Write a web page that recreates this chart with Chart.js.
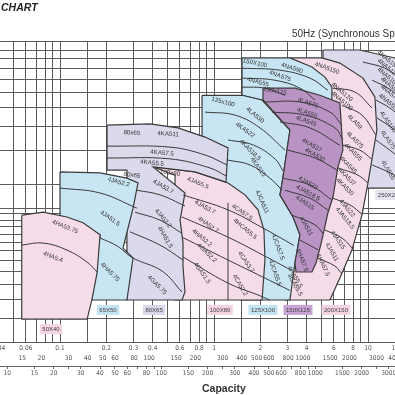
<!DOCTYPE html>
<html lang="en">
<head>
<meta charset="utf-8">
<title>Pump selection chart</title>
<script src="https://cdn.jsdelivr.net/npm/chart.js@4.4.1/dist/chart.umd.min.js"></script>
<style>
    html, body { margin: 0; padding: 0; background: #fff; }
    body { position: relative; width: 395px; height: 395px; overflow: hidden; }
    #pumpChart { position: absolute; left: -40px; top: 0; }
    .txt { position: absolute; white-space: nowrap; font-family: 'Liberation Sans', Arial, sans-serif; color: #333; }
    #chartTitle { left: 1px; top: 1px; font-size: 10.5px; font-weight: bold; font-style: italic; color: #222; }
    #hzTitle { left: 292px; top: 28px; font-size: 10px; }
    #capTitle { left: 202px; top: 382px; font-size: 10.5px; font-weight: bold; }
</style>
</head>
<body>
<canvas id="pumpChart" width="480" height="395"></canvas>
<div class="txt" id="chartTitle">CHART</div>
<div class="txt" id="hzTitle">50Hz (Synchronous Speed)</div>
<div class="txt" id="capTitle">Capacity</div>
<script>
// 눈금 값들 (유량 m3/min, 양정 m)
const capGrid = [0.04, 0.05, 0.06, 0.07, 0.08, 0.09, 0.1, 0.15, 0.2, 0.3, 0.4, 0.5, 0.6, 0.7, 0.8, 0.9, 1, 1.5, 2, 3, 4, 5, 6, 7, 8, 9, 10, 15];
const capLabels = [0.04, 0.06, 0.1, 0.2, 0.3, 0.4, 0.6, 0.8, 1, 2, 3, 4, 6, 8, 10, 15];
const usGpmLabels = [15, 20, 30, 40, 50, 60, 80, 100, 150, 200, 300, 400, 500, 600, 800, 1000, 1500, 2000, 3000, 4000];
const impGpmLabels = [10, 15, 20, 30, 40, 50, 60, 80, 100, 150, 200, 300, 400, 500, 600, 800, 1000, 1500, 2000, 3000];
const impGpmMinor = [25, 70, 90, 250, 700, 900, 2500];
const headGrid = [3, 4, 5, 6, 7, 8, 9, 10, 11, 12, 13, 14, 15, 20, 30, 40, 50, 60, 70, 80, 90, 100, 111.4];

// 기종별 사용 범위 (순서쌍 [유량, 양정])
const area250x200 = [[5.10, 100], [8.85, 100], [14.94, 90.9], [16.5, 88.6], [16.5, 19.1], [9.13, 19.1], [5.10, 83.4]];
const area200x150 = [[3.112, 90.9], [5.02, 90.9], [6.568, 85.5], [9.27, 71.4], [11.08, 56.9], [11.42, 38.3], [10.0, 20.3], [9.13, 13.8], [7.86, 9.08], [6.568, 6.49], [5.657, 4.99], [2.888, 4.99], [3.614, 54.9], [3.112, 54.9]];
const area150x100 = [[1.52, 90.9], [3.112, 90.9], [4.32, 81.5], [5.25, 72.3], [5.83, 64.1], [5.83, 54.9], [2.05, 54.9], [1.52, 58.1]];
const area125x100 = [[0.836, 58.1], [1.52, 58.1], [2.05, 54.9], [3.112, 38.3], [2.80, 21.5], [2.68, 17.6], [3.26, 13.5], [3.614, 10.9], [3.354, 7.78], [3.112, 4.99], [1.475, 4.99], [0.811, 21.0], [0.836, 34.0]];
const area150x125 = [[2.08, 63.3], [3.354, 63.3], [4.87, 58.1], [6.568, 53.0], [6.87, 30.1], [6.38, 24.6], [5.92, 17.1], [5.49, 14.2], [5.02, 10.24], [4.6, 7.78], [4.32, 6.98], [3.41, 6.98], [3.354, 7.78], [3.614, 10.9], [3.26, 13.5], [2.68, 17.6], [2.80, 21.5], [3.112, 38.3], [2.08, 54.9]];
const area100x80 = [[0.402, 24.6], [0.753, 23.2], [1.233, 20.3], [1.589, 17.6], [1.93, 14.7], [2.11, 11.55], [2.142, 8.06], [2.05, 4.99], [0.558, 4.99], [0.558, 22.3]];
const area80x65 = [[0.202, 40.6], [0.384, 41.2], [0.584, 39.3], [0.874, 35.2], [1.233, 30.9], [1.196, 20.5], [0.753, 23.2], [0.402, 24.6], [0.648, 18.0], [0.602, 13.0], [0.629, 9.88], [0.629, 7.41], [0.648, 5.49], [0.62, 4.99], [0.272, 4.99], [0.272, 23.7], [0.202, 23.7]];
const area65x50 = [[0.1, 23.2], [0.182, 22.9], [0.272, 21.5], [0.321, 20.3], [0.298, 15.0], [0.2565, 9.30], [0.298, 8.25], [0.272, 4.99], [0.161, 4.99], [0.182, 10.9], [0.1, 13.7]];
const area50x40 = [[0.0564, 13.8], [0.0776, 14.3], [0.111, 13.5], [0.141, 12.6], [0.182, 10.9], [0.174, 6.9], [0.161, 4.99], [0.150, 3.97], [0.0564, 3.97]];

// 임펠러 곡선들
const curves50x40 = [[[0.0564, 9.64], [0.0776, 9.88], [0.111, 9.08], [0.1497, 7.87], [0.174, 6.98]]];
const curves65x50 = [
    [[0.1, 19.1], [0.182, 18.0], [0.316, 15.0]],
    [[0.182, 10.5], [0.235, 9.53], [0.298, 8.25], [0.46, 7.06], [0.62, 5.49]]
];
const curves80x65 = [
    [[0.202, 31.6], [0.518, 31.2], [0.874, 28.4], [1.214, 25.2]],
    [[0.202, 27.4], [0.518, 27.1], [0.942, 24.3], [1.196, 22.1]],
    [[0.316, 18.6], [0.446, 17.6], [0.648, 15.4]],
    [[0.307, 14.3], [0.446, 13.0], [0.62, 11.1]],
    [[0.285, 11.3], [0.446, 9.64], [0.629, 8.06]]
];
const curves100x80 = [
    [[0.629, 17.6], [1.233, 14.7], [2.05, 11.9], [3.3, 9.6]],
    [[0.62, 13.5], [1.233, 10.6], [2.05, 8.6], [3.2, 7.1]],
    [[0.62, 10.6], [1.233, 8.06], [2.05, 6.6], [3.1, 5.6]],
    [[0.629, 8.36], [1.233, 6.11], [1.93, 5.30], [2.3, 4.99]],
    [[1.233, 16.0], [1.233, 4.99]]
];
const curves125x100 = [
    [[0.874, 47.5], [1.369, 45.8], [1.988, 39.3], [2.888, 30.1]],
    [[1.233, 34.0], [1.8, 32.0], [2.5, 27.0], [2.8, 23.5]],
    [[1.233, 26.7], [1.713, 25.2], [2.309, 21.5], [2.765, 18.6]]
];
const curves150x100 = [
    [[1.52, 80.4], [2.68, 78.5], [4.196, 71.4], [5.49, 61.7]],
    [[1.52, 71.4], [2.488, 69.6], [3.614, 63.3], [4.52, 54.9]],
    [[1.52, 64.1], [2.142, 63.3], [2.888, 58.1]]
];
const curves150x125 = [
    [[2.142, 53.6], [3.614, 53.6], [5.657, 47.5], [6.77, 40.6]],
    [[2.38, 47.5], [3.894, 45.8], [6.095, 39.3], [6.87, 34.0]],
    [[2.68, 42.2], [4.196, 39.3], [6.568, 31.9]],
    [[3.02, 30.1], [4.52, 27.4], [6.3, 23.7]],
    [[2.80, 21.5], [4.196, 19.8], [5.8, 16.6]],
    [[2.888, 18.6], [4.196, 16.9], [5.6, 14.5]],
    [[3.21, 13.8], [4.52, 12.3], [5.1, 11.1]],
    [[3.614, 10.24], [4.75, 9.1]]
];
const curves200x150 = [
    [[5.92, 63.3], [8.22, 60.4], [10.62, 49.9]],
    [[6.77, 51.5], [9.13, 45.8], [11.25, 36.1]],
    [[6.87, 31.9], [8.85, 30.1], [10.6, 27.0]],
    [[6.4, 24.3], [8.60, 22.3], [10.0, 20.3]],
    [[5.92, 16.9], [7.63, 15.6], [9.2, 13.9]],
    [[5.25, 11.55], [6.77, 10.49], [7.9, 9.3]],
    [[4.7, 8.25], [6.095, 7.50], [6.7, 6.9]]
];
const curves250x200 = [
    [[9.27, 86.6], [12.86, 80.4], [16.5, 70.5]],
    [[10.65, 69.6], [13.49, 63.3], [16.5, 56.0]],
    [[11.25, 54.9], [13.86, 49.9], [16.5, 44.5]],
    [[11.42, 44.3], [14.32, 39.3], [16.5, 35.5]],
    [[11.25, 34.0], [13.86, 30.1], [16.5, 27.0]],
    [[10.65, 25.2], [13.49, 23.2], [16.5, 21.3]]
];

// 모델 이름 [이름, 유량, 양정, 기울기(도)]
const tags50x40 = [['4HA53.75', 0.108, 12.0, 22], ['4HA5.4', 0.090, 8.36, 22]];
const tags65x50 = [['4JA52.2', 0.240, 20.5, 15], ['4JA51.5', 0.211, 13.3, 35], ['4HA5.75', 0.211, 6.98, 45]];
const tags80x65 = [['80x65', 0.293, 37.0, 4], ['4KA511', 0.503, 36.5, 4], ['4KA57.5', 0.46, 29.1, 5], ['4KA55.5', 0.396, 25.8, 6], ['80x65', 0.293, 22.3, 8], ['4JA53.7', 0.467, 19.4, 30], ['4JA52.2', 0.467, 13.3, 50], ['4HA51.5', 0.481, 10.6, 60], ['4GA5.75', 0.427, 5.97, 45]];
const tags100x80 = [['100x80', 0.518, 22.9, 8], ['4JA55.5', 0.787, 20.3, 22], ['4JA53.7', 0.874, 15.2, 30], ['4HA52.7', 0.914, 12.3, 35], ['4HA52.2', 0.836, 10.5, 40], ['4GA52.2', 0.90, 8.77, 45], ['4GA51.5', 0.836, 6.9, 55], ['4CA57.5', 1.52, 14.3, 35], ['4HCA55.5', 1.589, 11.7, 40], ['4CA53.7', 1.613, 7.87, 55], ['4CA52.2', 1.475, 5.97, 60]];
const tags125x100 = [['125x100', 1.144, 53.6, 15], ['4LA530', 1.845, 45.8, 40], ['4KA522', 1.589, 38.3, 35], ['4KA518.5', 1.713, 30.1, 45], ['4KA515', 1.93, 24.6, 55], ['4JCA511', 2.05, 16.2, 65], ['4JCA57.5', 2.6, 9.42, 70], ['4JCA55.5', 2.488, 6.9, 70]];
const tags150x100 = [['150X100', 1.845, 85.5, 12], ['4NA590', 3.21, 80.4, 18], ['4NA575', 2.68, 73.2, 20], ['4NA555', 1.93, 68.1, 15]];
const tags150x125 = [['150x125', 2.488, 61.1, 10], ['4LA575', 4.08, 53.0, 20], ['4LA555', 4.02, 47.0, 20], ['4LA545', 3.96, 42.7, 20], ['4KA537', 4.32, 31.9, 30], ['4KA530', 4.52, 28.4, 30], ['4JA522', 4.08, 20.3, 30], ['4JA518.5', 4.08, 18.0, 30], ['4JA515', 3.894, 16.0, 35], ['4JA511', 3.96, 12.1, 60], ['4HA57.5', 3.73, 8.06, 70]];
const tags200x150 = [['4NA5150', 5.42, 80.4, 20], ['4NA5120', 6.77, 60.4, 40], ['4NA5100', 6.77, 54.2, 40], ['4LA59', 8.22, 42.2, 45], ['4LA575', 8.22, 34.0, 45], ['4KA555', 7.99, 29.4, 45], ['4KA545', 7.41, 25.2, 45], ['4KA537', 7.30, 21.8, 45], ['4KA530', 7.08, 19.35, 45], ['4JA522', 7.30, 15.0, 50], ['4JA518.5', 7.08, 13.3, 50], ['4JA515', 6.38, 10.24, 55], ['4JA511', 5.83, 8.87, 60], ['4HA57.5', 5.10, 7.59, 65], ['4HA55.5', 3.354, 6.58, 60], ['4GA55.5', 3.354, 5.97, 60]];
const tags250x200 = [['4NA5150', 13.49, 88.6, 40], ['4NA5120', 13.49, 80.4, 40], ['4NA5100', 13.49, 72.3, 40], ['4NA590', 13.86, 65.5, 40], ['4NA575', 13.86, 59.7, 40], ['4NA555', 13.49, 53.6, 40], ['4LA5100', 13.49, 42.2, 55], ['4LA575', 13.49, 34.0, 55], ['4LA555', 13.49, 23.7, 60]];

// 구경 표시 상자 [이름, 유량, 양정, 색]
const sizeTags = [['50X40', 0.0874, 3.52, '#f4d3e2'], ['65X50', 0.205, 4.43, '#c4e4f3'], ['80X65', 0.408, 4.43, '#d8d8ea'], ['100X80', 1.094, 4.43, '#f4d3e2'], ['125X100', 2.08, 4.43, '#c4e4f3'], ['150X125', 3.51, 4.43, '#c9a3d4'], ['200X150', 6.20, 4.43, '#f4d3e2'], ['250X200', 13.86, 17.6, '#e4e4ee']];

const pink = '#f6dce8', blue = '#c7e5f3', lavender = '#dadaec', purple = '#b993c4';
const lineColor = '#3a3a3a';
const gridColor = '#5c5c5c';
const capMin = 0.03, capMax = 20;   // 화면 밖까지 이어지는 축 범위
const headMin = 3.015, headMax = 111.4;
const usPerCap = 264.172, impPerCap = 219.969;   // m3/min -> US GPM, Imp GPM
const tickFont = { family: "'Liberation Sans Narrow', 'DejaVu Sans Condensed', 'Liberation Sans', sans-serif", size: 6.5 };

function toPoints(list) {
    return list.map(p => ({ x: p[0], y: p[1] }));
}

// 뒤에서 앞으로 그리는 순서
const areaList = [
    [area250x200, lavender], [area200x150, pink], [area150x100, blue], [area125x100, blue],
    [area150x125, purple], [area100x80, pink], [area80x65, lavender], [area65x50, blue], [area50x40, pink]
];
const curveList = [].concat(curves250x200, curves200x150, curves150x100, curves125x100, curves150x125,
    curves100x80, curves80x65, curves65x50, curves50x40);
const modelTags = [].concat(tags50x40, tags65x50, tags80x65, tags100x80, tags125x100, tags150x100,
    tags150x125, tags200x150, tags250x200);

const datasets = [];
areaList.forEach(a => {
    datasets.push({
        data: toPoints(a[0].concat([a[0][0]])),
        showLine: true,
        fill: 'shape',
        backgroundColor: a[1],
        borderColor: lineColor,
        borderWidth: 1.2,
        pointRadius: 0,
        tension: 0
    });
});
curveList.forEach(c => {
    datasets.push({
        data: toPoints(c),
        showLine: true,
        fill: false,
        borderColor: lineColor,
        borderWidth: 1,
        pointRadius: 0,
        tension: 0.4
    });
});
datasets.forEach((d, i) => { d.order = datasets.length - i; });   // 나중 것이 위에 오게

// 모델명, 구경 상자 그리는 장치
const tagPlugin = {
    id: 'pumpTags',
    afterDraw(chart) {
        const c = chart.ctx;
        const xs = chart.scales.x, ys = chart.scales.y;
        c.save();
        c.textAlign = 'center';
        c.textBaseline = 'middle';
        c.font = "6.2px 'Liberation Sans', Arial, sans-serif";
        c.fillStyle = '#333';
        modelTags.forEach(t => {
            c.save();
            c.translate(xs.getPixelForValue(t[1]), ys.getPixelForValue(t[2]));
            c.rotate(t[3] * Math.PI / 180);
            c.fillText(t[0], 0, 0);
            c.restore();
        });
        c.font = "6px 'Liberation Sans', Arial, sans-serif";
        sizeTags.forEach(t => {
            const px = xs.getPixelForValue(t[1]), py = ys.getPixelForValue(t[2]);
            const w = c.measureText(t[0]).width + 5;
            c.fillStyle = t[3];
            c.fillRect(px - w / 2, py - 5, w, 10);
            c.fillStyle = '#444';
            c.fillText(t[0], px, py + 0.5);
        });
        c.restore();
    }
};

new Chart(document.getElementById('pumpChart').getContext('2d'), {
    type: 'scatter',
    data: { datasets: datasets },
    options: {
        responsive: false,
        animation: false,
        events: [],
        layout: { padding: { left: 19.5, right: 25.64, top: 41, bottom: 17 } },
        plugins: { legend: { display: false }, tooltip: { enabled: false } },
        scales: {
            x: {
                type: 'logarithmic', position: 'bottom', min: capMin, max: capMax, z: 1,
                afterBuildTicks: s => { s.ticks = capGrid.map(v => ({ value: v })); },
                afterFit: s => { s.height = 11; },
                grid: { color: gridColor, lineWidth: 1, drawTicks: false },
                border: { display: true, color: gridColor },
                ticks: { padding: 2.5, autoSkip: false, maxRotation: 0, minRotation: 0, font: tickFont, color: '#555',
                    callback: v => capLabels.includes(v) ? String(v) : '' }
            },
            us: {
                type: 'logarithmic', position: 'bottom', min: capMin * usPerCap, max: capMax * usPerCap,
                afterBuildTicks: s => { s.ticks = usGpmLabels.map(v => ({ value: v })); },
                afterFit: s => { s.height = 13; },
                grid: { drawOnChartArea: false, drawTicks: false },
                border: { display: false },
                ticks: { padding: 1.5, autoSkip: false, maxRotation: 0, minRotation: 0, font: tickFont, color: '#555',
                    callback: v => String(v) }
            },
            imp: {
                type: 'logarithmic', position: 'bottom', min: capMin * impPerCap, max: capMax * impPerCap,
                afterBuildTicks: s => { s.ticks = impGpmLabels.concat(impGpmMinor).sort((a, b) => a - b).map(v => ({ value: v })); },
                afterFit: s => { s.height = 12; },
                grid: { drawOnChartArea: false, drawTicks: true, tickLength: 3, color: '#666' },
                border: { display: true, color: '#666' },
                ticks: { padding: 0.5, autoSkip: false, maxRotation: 0, minRotation: 0, font: tickFont, color: '#555',
                    callback: v => impGpmLabels.includes(v) ? String(v) : '' }
            },
            y: {
                type: 'logarithmic', position: 'left', min: headMin, max: headMax, z: 1,
                afterBuildTicks: s => { s.ticks = headGrid.map(v => ({ value: v })); },
                afterFit: s => { s.width = 0; },
                grid: { color: gridColor, lineWidth: 1, drawTicks: false },
                border: { display: false },
                ticks: { display: false }
            }
        }
    },
    plugins: [tagPlugin]
});
</script>
</body>
</html>
